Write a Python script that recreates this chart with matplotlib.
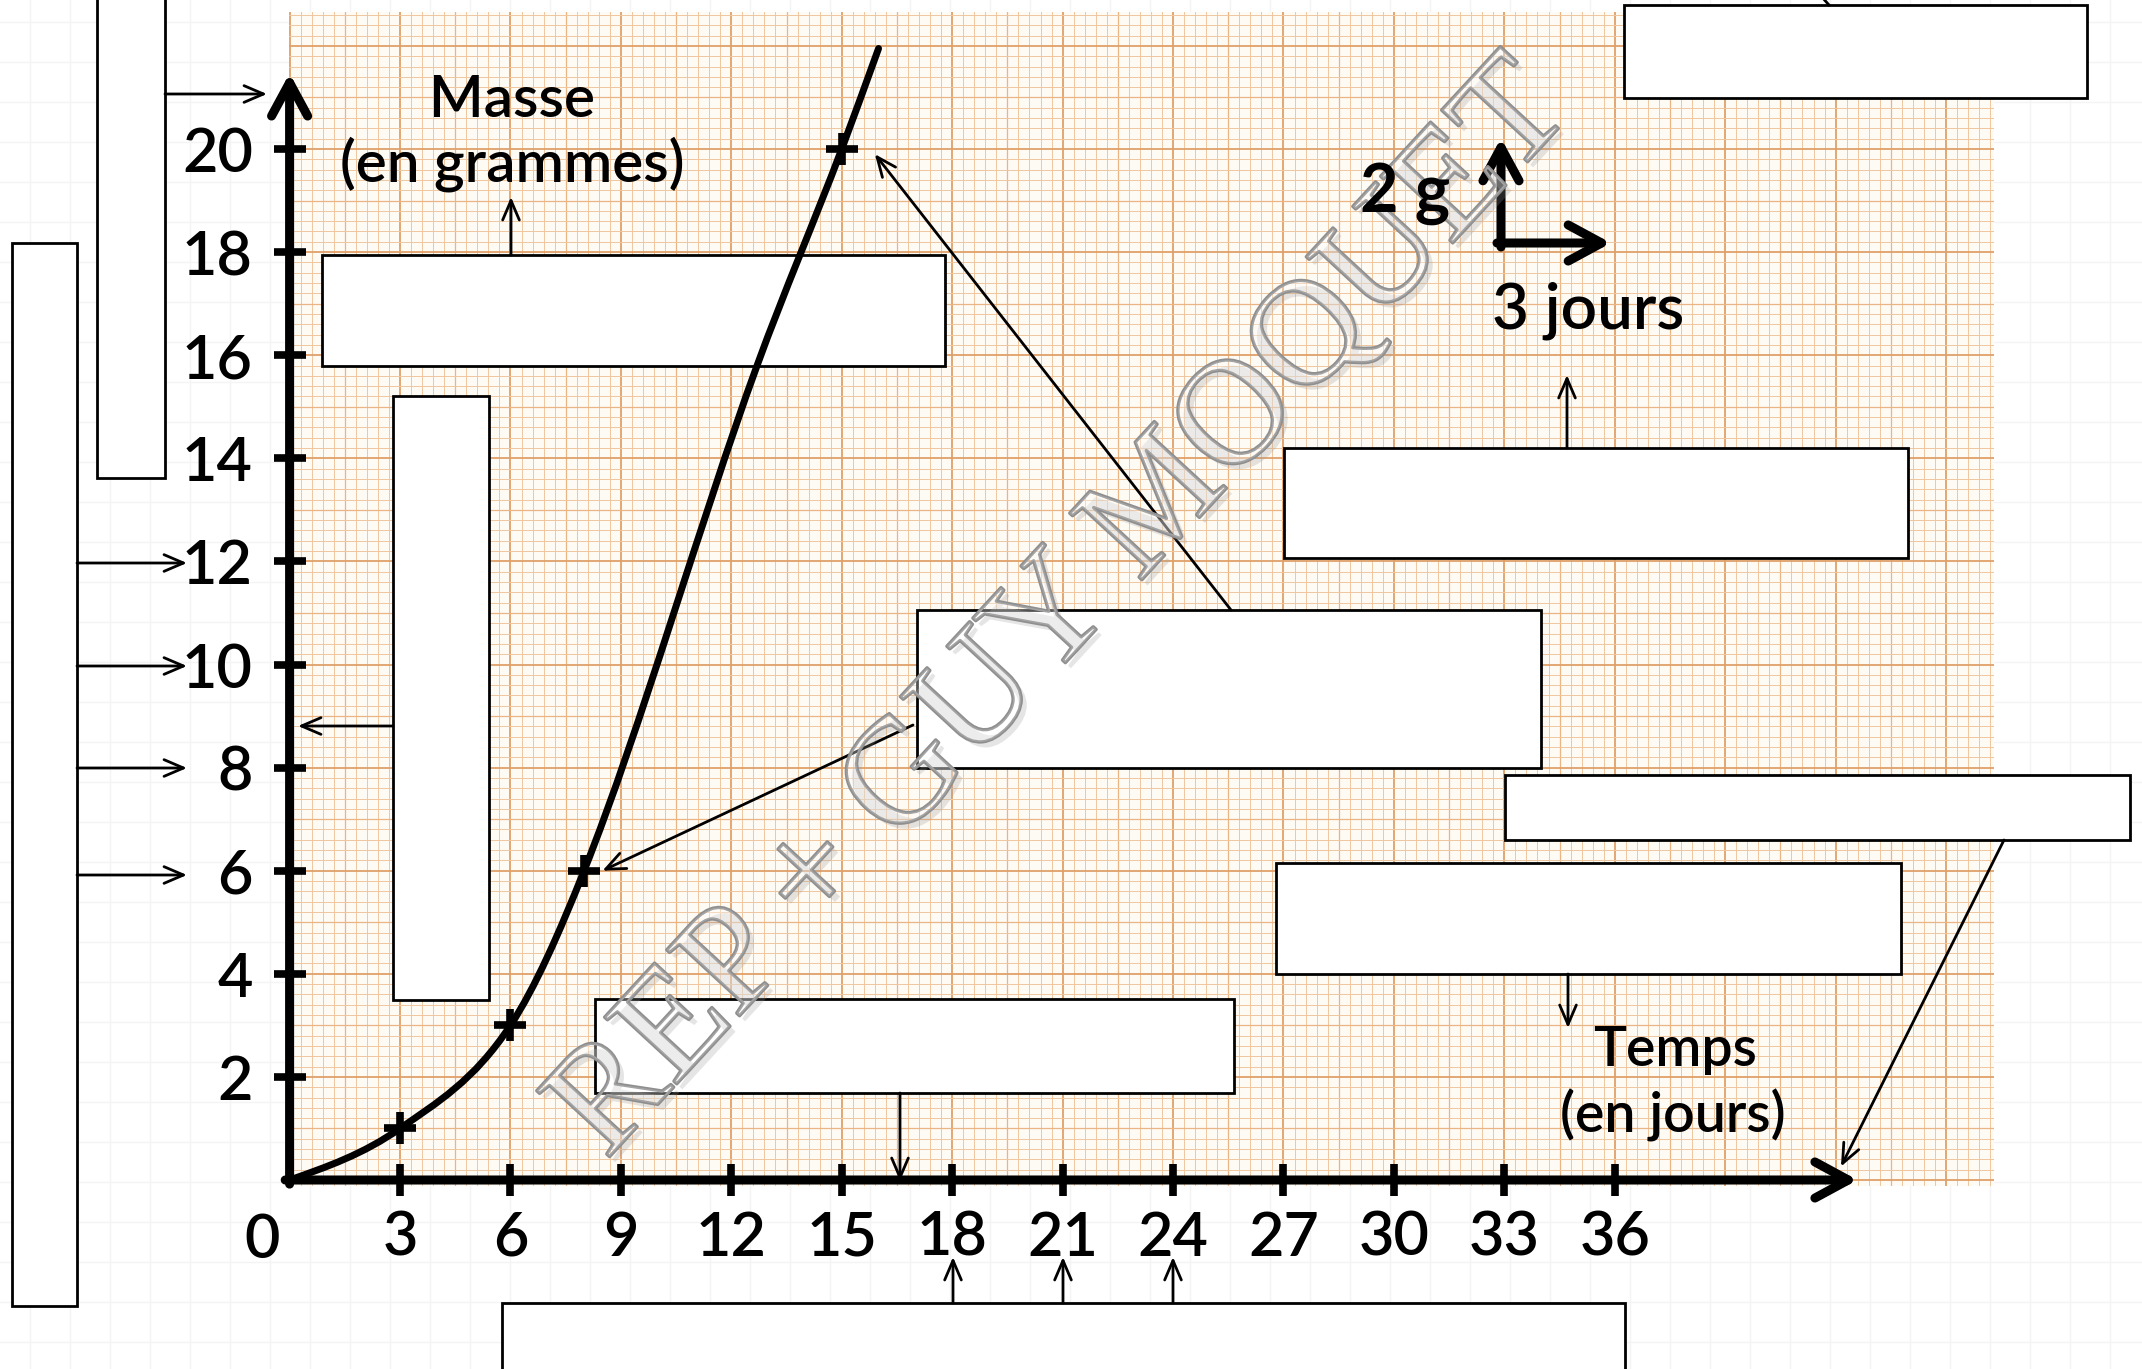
import numpy as np
import matplotlib
matplotlib.use("Agg")
import matplotlib.pyplot as plt
import matplotlib.transforms as mtransforms
import matplotlib.patheffects as pe
from matplotlib.patches import Rectangle, PathPatch
from matplotlib.path import Path

# ---------------- data ----------------
measure_days = [3, 6, 8, 15]
measure_mass = [1, 3, 6, 20]
curve_days = [0, 3, 6, 8, 12.7, 15, 16]
curve_mass = [0, 1, 3, 6, 15.8, 20, 21.95]
x_ticks = [3, 6, 9, 12, 15, 18, 21, 24, 27, 30, 33, 36]
x_tick_labels = ["3", "6", "9", "12", "15", "18", "21", "24", "27", "30", "33", "36"]
y_ticks = [2, 4, 6, 8, 10, 12, 14, 16, 18, 20]
y_tick_labels = ["2", "4", "6", "8", "10", "12", "14", "16", "18", "20"]
y_label = ["Masse", "(en grammes)"]
x_label = ["Temps", "(en jours)"]
scale_labels = ["2 g", "3 jours"]
watermark = "REP + GUY MOQUET"

plt.rcParams["font.family"] = ["Lato", "DejaVu Sans"]
plt.rcParams["font.weight"] = "semibold"

W, H = 2142, 1369
fig = plt.figure(figsize=(W / 100, H / 100), dpi=100)
fig.patch.set_facecolor("white")
PX = mtransforms.Affine2D().scale(1 / W, -1 / H).translate(0, 1) + fig.transFigure

# faint background grid of the page
bg = fig.add_axes([0, 0, 1, 1], zorder=-1)
bg.set_xlim(0, W)
bg.set_ylim(H, 0)
bg.axis("off")
for gx in np.arange(30, W, 40):
    bg.axvline(gx, color="#f4f4f4", lw=1.0)
for gy in np.arange(22, H, 40):
    bg.axhline(gy, color="#f4f4f4", lw=1.0)

# pixel calibration of the chart
X0, DX = 289.6, 36.81
Y0, DY = 1180.0, 51.55
pl, pt, pr, pb = 289, 11.7, 1994, 1186  # graph paper extent in px

ax = fig.add_axes([pl / W, 1 - pb / H, (pr - pl) / W, (pb - pt) / H], zorder=1)
ax.set_xlim((pl - X0) / DX, (pr - X0) / DX)
ax.set_ylim((Y0 - pb) / DY, (Y0 - pt) / DY)
ax.set_facecolor("#fefaf4")
xmin, xmax = ax.get_xlim()
ymin, ymax = ax.get_ylim()

# graph paper
def paper_style(i):
    if i % 10 == 0:
        return "#e0a068", 1.3
    if i % 5 == 0:
        return "#eab585", 0.9
    return "#efc69e", 0.7

nx = int(xmax / 0.3) + 1
for i in range(nx):
    c, lw = paper_style(i)
    ax.axvline(i * 0.3, color=c, lw=lw, zorder=0.5)
ny = int(ymax / 0.2) + 1
for j in range(ny):
    c, lw = paper_style(j)
    ax.axhline(j * 0.2, color=c, lw=lw, zorder=0.5)

# spines / ticks
for s in ["top", "right"]:
    ax.spines[s].set_visible(False)
ax.spines["left"].set_position(("data", 0))
ax.spines["bottom"].set_position(("data", 0))
ax.spines["left"].set_linewidth(0)
ax.spines["bottom"].set_linewidth(0)
ax.set_xticks(x_ticks, x_tick_labels)
ax.set_yticks(y_ticks, y_tick_labels)
ax.tick_params(axis="both", direction="inout", length=23, width=5.5, color="black",
               labelsize=44)
ax.tick_params(axis="x", pad=10)
ax.tick_params(axis="y", pad=15)

# axis arrows
big = dict(arrowstyle="->,head_length=1.2,head_width=0.65", lw=6.5, color="black",
           shrinkA=0, shrinkB=0, mutation_scale=20)
ax.annotate("", xy=(42.6, 0), xytext=(-0.12, 0), arrowprops=big, zorder=4,
            annotation_clip=False)
ax.annotate("", xy=(0, 21.47), xytext=(0, -0.08), arrowprops=big, zorder=4,
            annotation_clip=False)
ax.text(262, 1212, "0", transform=PX, ha="center", va="top", fontsize=44)

# white boxes (px: left, top, right, bottom)
boxes = [
    (97, -10, 165, 478),
    (12, 243, 77, 1306),
    (321.5, 255, 945, 366),
    (393, 396, 489, 1000),
    (1624, 5, 2087, 98),
    (1284, 448, 1908, 558),
    (917, 610, 1541, 768),
    (1505, 774.5, 2130, 840),
    (1276, 863, 1901, 974),
    (595, 999, 1234, 1093),
    (502, 1303, 1625, 1380),
]
for (l, t, r, b) in boxes:
    ax.add_patch(Rectangle((l, t), r - l, b - t, transform=PX, facecolor="white",
                           edgecolor="black", lw=2.0, zorder=3, clip_on=False))

thin = dict(arrowstyle="->,head_length=1.4,head_width=0.6", lw=2.0, color="black",
            shrinkA=0, shrinkB=0, mutation_scale=10)
px_arrows = [
    ((165, 94), (267, 94)),
    ((77, 563), (187, 563)), ((77, 666), (187, 666)),
    ((77, 768), (187, 768)), ((77, 875), (187, 875)),
    ((511, 255), (511, 197)),
    ((393, 726), (298, 726)),
    ((1567, 448), (1567, 375)),
    ((2004, 840), (1841, 1166.5)),
    ((1568, 974), (1568, 1028)),
    ((900, 1093), (900, 1181)),
    ((953, 1303), (953, 1257)), ((1063, 1303), (1063, 1257)), ((1173, 1303), (1173, 1257)),
]
for tail, tip in px_arrows:
    ax.annotate("", xy=tip, xycoords=PX, xytext=tail, textcoords=PX, arrowprops=thin,
                zorder=4)
# arrows pointing to measured points
ax.annotate("", xy=(15.9, 19.9), xycoords="data", xytext=(1231, 610), textcoords=PX,
            arrowprops=thin, zorder=4)
ax.annotate("", xy=(8.5, 6.0), xycoords="data", xytext=(913, 725), textcoords=PX,
            arrowprops=thin, zorder=4)
ax.plot([1829, 1821], [5, -4], transform=PX, color="black", lw=2.0, zorder=4,
        clip_on=False)

# growth curve (smooth Bezier through read points)
cx = np.array(curve_days, float)
cy = np.array(curve_mass, float)
sec = np.diff(cy) / np.diff(cx)
m = np.empty_like(cx)
m[1:-1] = (sec[:-1] + sec[1:]) / 2
m[0] = sec[0] * 0.75
m[-1] = sec[-1]
verts = [(cx[0], cy[0])]
codes = [Path.MOVETO]
for i in range(len(cx) - 1):
    h = cx[i + 1] - cx[i]
    verts += [(cx[i] + h / 3, cy[i] + m[i] * h / 3),
              (cx[i + 1] - h / 3, cy[i + 1] - m[i + 1] * h / 3),
              (cx[i + 1], cy[i + 1])]
    codes += [Path.CURVE4] * 3
ax.add_patch(PathPatch(Path(verts, codes), fill=False, lw=5.0, edgecolor="black",
                       zorder=5, capstyle="round"))
ax.plot(measure_days, measure_mass, ls="none", marker="+", ms=23, mew=5.5,
        color="black", zorder=6)

# scale indicator
ax.annotate("", xy=(1501, 138), xycoords=PX, xytext=(1501, 247), textcoords=PX,
            arrowprops=big, zorder=4)
ax.annotate("", xy=(1611, 243), xycoords=PX, xytext=(1497, 243), textcoords=PX,
            arrowprops=big, zorder=4)

# labels
ax.text(511.5, 116.7, y_label[0], transform=PX, ha="center", va="baseline", fontsize=42, zorder=7)
ax.text(512, 181.7, y_label[1], transform=PX, ha="center", va="baseline", fontsize=42, zorder=7)
ax.text(1675, 1065.8, x_label[0], transform=PX, ha="center", va="baseline", fontsize=40, zorder=7)
ax.text(1673, 1133, x_label[1], transform=PX, ha="center", va="baseline", fontsize=40, zorder=7)
ax.text(1405, 212, scale_labels[0], transform=PX, ha="center", va="baseline", fontsize=48,
        fontweight="bold", zorder=11)
ax.text(1588.6, 328, scale_labels[1], transform=PX, ha="center", va="baseline", fontsize=46, zorder=7)

# watermark
ax.text(1090, 636, watermark, transform=PX, ha="center", va="baseline",
        rotation=47.3, rotation_mode="anchor", fontsize=108,
        family=["Liberation Serif", "DejaVu Serif"], fontweight="normal",
        color=(1, 1, 1, 0.18), zorder=10,
        path_effects=[pe.SimplePatchShadow(offset=(4, -4), shadow_rgbFace="#999999", alpha=0.25),
                      pe.Stroke(linewidth=2.4, foreground="#8f8f8f"), pe.Normal()])

fig.savefig("out.png", dpi=100, facecolor="white")
